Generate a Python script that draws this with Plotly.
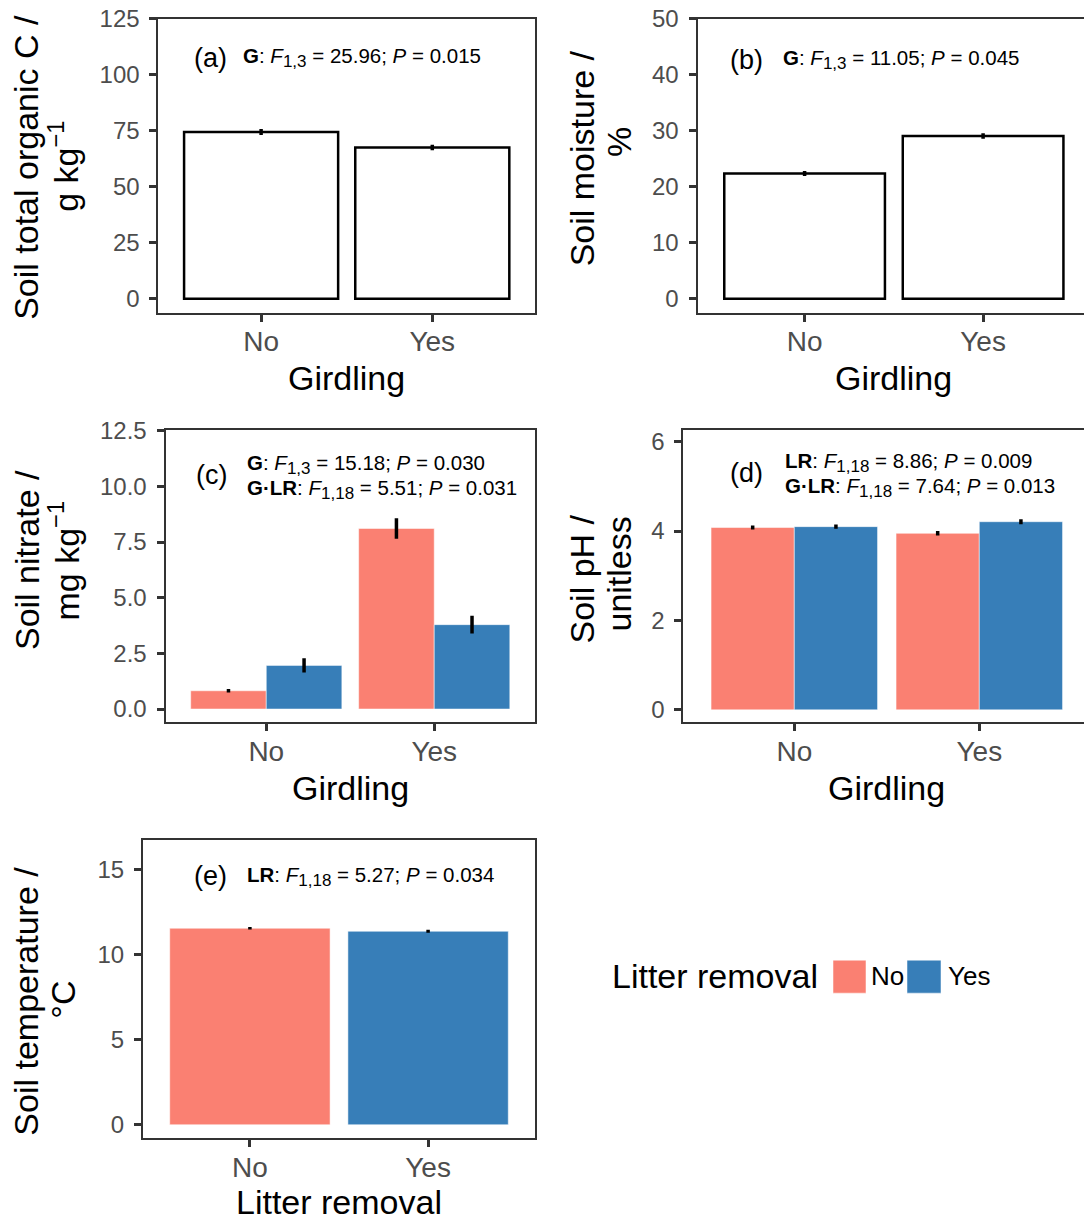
import plotly.graph_objects as go

# ---------------- data ----------------
girdling = ["No", "Yes"]
litter = ["No", "Yes"]

toc_mean = [74.5, 67.6]
toc_se = [1.3, 1.2]

moist_mean = [22.4, 29.1]
moist_se = [0.45, 0.5]

nitrate_lrno_mean = [0.82, 8.11]
nitrate_lrno_se = [0.08, 0.46]
nitrate_lryes_mean = [1.96, 3.79]
nitrate_lryes_se = [0.32, 0.40]

ph_lrno_mean = [4.08, 3.95]
ph_lrno_se = [0.045, 0.05]
ph_lryes_mean = [4.10, 4.21]
ph_lryes_se = [0.045, 0.055]

temp_mean = [11.55, 11.37]
temp_se = [0.08, 0.09]

ticks_a = [0, 25, 50, 75, 100, 125]
ticks_b = [0, 10, 20, 30, 40, 50]
ticks_c = [0.0, 2.5, 5.0, 7.5, 10.0, 12.5]
ticks_d = [0, 2, 4, 6]
ticks_e = [0, 5, 10, 15]

# ---------------- style ----------------
W, H = 1084, 1223
FONT = "Liberation Sans"
RED = "#FA8072"
BLUE = "#377EB8"
AXC = "#333333"
TICKC = "#4D4D4D"
YTICKFS = 24
XTICKFS = 28
TITLEFS = 34


def px(x):
    return x / W


def py(y):
    # target screen pixel -> paper fraction (compensates observed vertical offset)
    return 1 - ((y - 14) / 0.9886) / H


fig = go.Figure()

err = dict(type="data", visible=True, thickness=3.5, width=0, color="black")
OUT = dict(color="rgba(255,255,255,0.5)", width=1)

# (a)
fig.add_trace(go.Bar(x=girdling, y=toc_mean,
                     error_y=dict(err, array=toc_se),
                     marker=dict(color="white", line=dict(color="black", width=2.5)),
                     xaxis="x", yaxis="y", showlegend=False))
# (b)
fig.add_trace(go.Bar(x=girdling, y=moist_mean,
                     error_y=dict(err, array=moist_se),
                     marker=dict(color="white", line=dict(color="black", width=2.5)),
                     xaxis="x2", yaxis="y2", showlegend=False))
# (c)
fig.add_trace(go.Bar(x=girdling, y=nitrate_lrno_mean,
                     error_y=dict(err, array=nitrate_lrno_se),
                     marker=dict(color=RED, line=OUT),
                     xaxis="x3", yaxis="y3", showlegend=False))
fig.add_trace(go.Bar(x=girdling, y=nitrate_lryes_mean,
                     error_y=dict(err, array=nitrate_lryes_se),
                     marker=dict(color=BLUE, line=OUT),
                     xaxis="x3", yaxis="y3", showlegend=False))
# (d)
fig.add_trace(go.Bar(x=girdling, y=ph_lrno_mean,
                     error_y=dict(err, array=ph_lrno_se),
                     marker=dict(color=RED, line=OUT),
                     xaxis="x4", yaxis="y4", showlegend=False))
fig.add_trace(go.Bar(x=girdling, y=ph_lryes_mean,
                     error_y=dict(err, array=ph_lryes_se),
                     marker=dict(color=BLUE, line=OUT),
                     xaxis="x4", yaxis="y4", showlegend=False))
# (e)
fig.add_trace(go.Bar(x=litter, y=temp_mean,
                     error_y=dict(err, array=temp_se),
                     marker=dict(color=[RED, BLUE], line=OUT),
                     xaxis="x5", yaxis="y5", showlegend=False))


def xax(domain, anchor, rng):
    return dict(domain=domain, anchor=anchor, range=rng, type="category",
                showline=True, linecolor=AXC, linewidth=2, mirror=True,
                ticks="outside", ticklen=7, tickwidth=2.5, tickcolor=AXC,
                tickfont=dict(family=FONT, size=XTICKFS, color=TICKC),
                ticklabelstandoff=-4,
                showgrid=False, zeroline=False, fixedrange=True)


def yax(domain, anchor, rng, tickvals, ticktext, mirror=True):
    return dict(domain=domain, anchor=anchor, range=rng,
                tickvals=tickvals, ticktext=ticktext,
                showline=True, linecolor=AXC, linewidth=2, mirror=mirror,
                ticks="outside", ticklen=7, tickwidth=2.5, tickcolor=AXC,
                tickfont=dict(family=FONT, size=YTICKFS, color=TICKC),
                ticklabelstandoff=5,
                showgrid=False, zeroline=False, fixedrange=True)


ya = [py(313), py(19)]
yc = [py(723), py(430)]
ye = [py(1139), py(841)]

fig.update_layout(
    xaxis=xax([px(158.4), px(535)], "y", [-0.6, 1.6]),
    yaxis=yax(ya, "x", [-6.25, 125], ticks_a, [str(v) for v in ticks_a]),
    xaxis2=xax([px(697.5), 1.0], "y2", [-0.6, -0.6 + 386.5 / 178.5]),
    yaxis2=yax(ya, "x2", [-2.5, 50], ticks_b, [str(v) for v in ticks_b], mirror=False),
    xaxis3=xax([px(165.5), px(535)], "y3", [-0.6, 1.6]),
    yaxis3=yax(yc, "x3", [-0.6, 12.55], ticks_c, ["%.1f" % v for v in ticks_c]),
    xaxis4=xax([px(683.3), 1.0], "y4", [-0.6, -0.6 + 400.7 / 185]),
    yaxis4=yax(yc, "x4", [-0.28, 6.27], ticks_d, [str(v) for v in ticks_d], mirror=False),
    xaxis5=xax([px(143), px(535)], "y5", [-0.6, 1.6]),
    yaxis5=yax(ye, "x5", [-0.78, 16.72], ticks_e, [str(v) for v in ticks_e]),
    barmode="group", bargap=0.1, bargroupgap=0,
    width=W, height=H, margin=dict(l=0, r=0, t=0, b=0),
    paper_bgcolor="white", plot_bgcolor="white",
    font=dict(family=FONT, color="black"),
)

ann = []


def text(x, y, s, size, xanchor="left", angle=0, color="black"):
    ann.append(dict(x=px(x), y=py(y), xref="paper", yref="paper", text=s,
                    showarrow=False, xanchor=xanchor, yanchor="middle",
                    textangle=angle, font=dict(family=FONT, size=size, color=color)))


# panel letters
text(210, 58, "(a)", 27, "center")
text(746, 60, "(b)", 27, "center")
text(211, 475, "(c)", 27, "center")
text(746, 473, "(d)", 27, "center")
text(210, 877, "(e)", 27, "center")

# statistics
SF = 20.5


def sub(s):
    return "<sub><span style='font-size:17px'>%s</span></sub>" % s


text(241, 58, "<b>G</b>: <i>F</i>" + sub("1,3") + " = 25.96; <i>P</i> = 0.015", SF)
text(781, 60, "<b>G</b>: <i>F</i>" + sub("1,3") + " = 11.05; <i>P</i> = 0.045", SF)
text(245, 465, "<b>G</b>: <i>F</i>" + sub("1,3") + " = 15.18; <i>P</i> = 0.030", SF)
text(245, 490, "<b>G·LR</b>: <i>F</i>" + sub("1,18") + " = 5.51; <i>P</i> = 0.031", SF)
text(783, 463, "<b>LR</b>: <i>F</i>" + sub("1,18") + " = 8.86; <i>P</i> = 0.009", SF)
text(783, 488, "<b>G·LR</b>: <i>F</i>" + sub("1,18") + " = 7.64; <i>P</i> = 0.013", SF)
text(245, 877, "<b>LR</b>: <i>F</i>" + sub("1,18") + " = 5.27; <i>P</i> = 0.034", SF)

# x titles
text(346.5, 378, "Girdling", TITLEFS, "center")
text(893.7, 378, "Girdling", TITLEFS, "center")
text(350, 789, "Girdling", TITLEFS, "center")
text(886.5, 789, "Girdling", TITLEFS, "center")
text(339, 1203, "Litter removal", TITLEFS, "center")

# y titles (two lines each)
text(26.5, 167.5, "Soil total organic C /", TITLEFS, "center", -90)
text(63.5, 166.5, "g kg<sup>−1</sup>", TITLEFS, "center", -90)
text(582, 158.5, "Soil moisture /", TITLEFS, "center", -90)
text(619, 142, "%", TITLEFS, "center", -90)
text(26.5, 561, "Soil nitrate /", TITLEFS, "center", -90)
text(63.5, 561.5, "mg kg<sup>−1</sup>", TITLEFS, "center", -90)
text(582, 580, "Soil pH /", TITLEFS, "center", -90)
text(619, 575, "unitless", TITLEFS, "center", -90)
text(26.5, 1002, "Soil temperature /", TITLEFS, "center", -90)
text(63.5, 1001, "°C", TITLEFS, "center", -90)

# legend
text(610, 977, "Litter removal", TITLEFS, "left")
text(869, 977, "No", 26, "left")
text(946, 977, "Yes", 26, "left")

fig.update_layout(annotations=ann)

shapes = [
    dict(type="rect", xref="paper", yref="paper", x0=px(833), x1=px(866), y0=py(994), y1=py(961),
         fillcolor=RED, line=OUT),
    dict(type="rect", xref="paper", yref="paper", x0=px(907), x1=px(941), y0=py(994), y1=py(961),
         fillcolor=BLUE, line=OUT),
]
fig.update_layout(shapes=shapes)

fig.write_html("out.html", config={"displayModeBar": False},
               post_script="document.body.style.margin='0';document.body.style.padding='0';document.body.style.overflow='hidden';")
